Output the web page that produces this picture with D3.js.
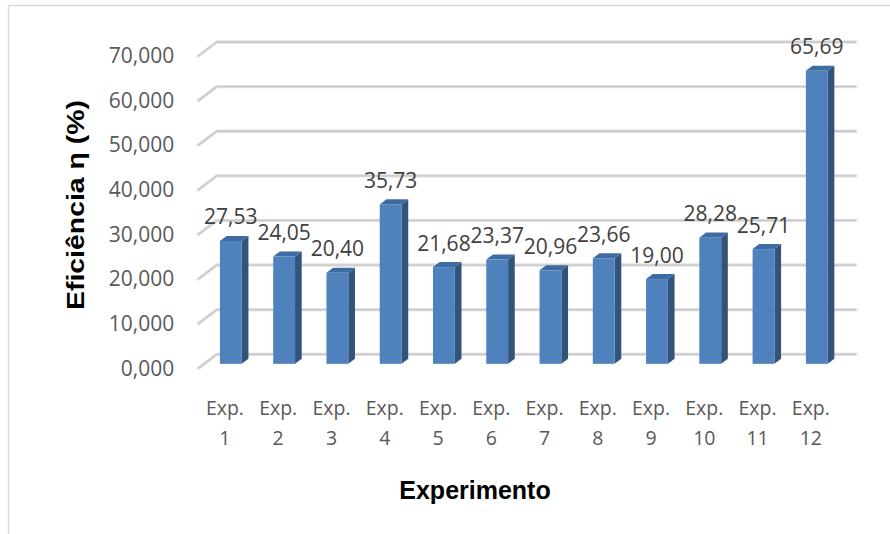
<!DOCTYPE html>
<html>
<head>
<meta charset="utf-8">
<script src="https://cdn.jsdelivr.net/npm/d3@7"></script>
<style>
  html, body { margin: 0; padding: 0; background: #fff; }
  svg { display: block; }
</style>
</head>
<body>
<svg id="chart" width="890" height="534"></svg>
<script>
// ---- data ----
const categories = ["Exp. 1","Exp. 2","Exp. 3","Exp. 4","Exp. 5","Exp. 6","Exp. 7","Exp. 8","Exp. 9","Exp. 10","Exp. 11","Exp. 12"];
const efficiency = [27.53, 24.05, 20.40, 35.73, 21.68, 23.37, 20.96, 23.66, 19.00, 28.28, 25.71, 65.69];
const yTicks = [0, 10, 20, 30, 40, 50, 60, 70];
const yTitle = "Eficiência η (%)";
const xTitle = "Experimento";

// ---- layout ----
const svg = d3.select("#chart");
const W = 890, H = 534;
const frontLeft = 198.3, frontRight = 837.5;
const DX = 18.5, DY = -14;          // depth vector (front plane -> back wall)
const d0 = 0.32, d1 = 0.68;         // bar depth range
const locale = d3.formatLocale({decimal: ",", thousands: ".", grouping: [3], currency: ["", ""]});
const fmtTick = locale.format(".3f");
const fmtVal = locale.format(".2f");
const textGray = "#595959";

const x = d3.scaleBand().domain(categories).range([frontLeft, frontRight]).padding(0);
const y = d3.scaleLinear().domain([0, 70]).range([368.3, 56.0]);

// chart frame
svg.append("path")
  .attr("d", `M8.5,${H} L8.5,5.5 L${W},5.5`)
  .attr("fill", "none").attr("stroke", "#d9d9d9").attr("stroke-width", 1.5);

// gridlines (back wall + side slant)
const grid = svg.append("g");
yTicks.forEach(t => {
  const yf = y(t);
  const pts = [[frontLeft, yf], [frontLeft + DX, yf + DY], [frontRight + DX, yf + DY]];
  grid.append("path")
    .attr("d", d3.line()(pts))
    .attr("fill", "none").attr("stroke", "#e3e3e3").attr("stroke-width", 3.4)
    .attr("stroke-linejoin", "round").attr("stroke-linecap", "round");
  grid.append("path")
    .attr("d", d3.line()(pts))
    .attr("fill", "none").attr("stroke", "#c6c6c6").attr("stroke-width", 1.3)
    .attr("stroke-linejoin", "round");
});

// y axis labels
const yAxis = d3.axisLeft(y).tickValues(yTicks).tickSize(0).tickPadding(24).tickFormat(fmtTick);
const yg = svg.append("g").attr("transform", `translate(${frontLeft},0)`).call(yAxis);
yg.select(".domain").remove();
yg.selectAll("text")
  .attr("font-family", "'Open Sans', sans-serif")
  .attr("font-size", 21)
  .attr("fill", textGray);

// bars
const bw = x.bandwidth();
const barW = bw * 0.41;
const sdx = (d1 - d0) * DX, sdy = (d1 - d0) * DY;
const bars = svg.append("g");
efficiency.forEach((v, i) => {
  const c = categories[i];
  const x0 = x(c) + (bw - barW) / 2 + d0 * DX;
  const yt = y(v) + d0 * DY;
  const yb = y(0) + d0 * DY;
  // side face
  bars.append("path")
    .attr("d", d3.line()([[x0 + barW, yt], [x0 + barW + sdx, yt + sdy], [x0 + barW + sdx, yb + sdy], [x0 + barW, yb]]) + "Z")
    .attr("fill", "#32537c");
  // top face
  bars.append("path")
    .attr("d", d3.line()([[x0, yt], [x0 + sdx, yt + sdy], [x0 + barW + sdx, yt + sdy], [x0 + barW, yt]]) + "Z")
    .attr("fill", "#3e6ba3");
  // front face
  bars.append("rect")
    .attr("x", x0).attr("y", yt).attr("width", barW).attr("height", yb - yt)
    .attr("fill", "#4f81bd");
  // value label
  bars.append("text")
    .attr("x", x0 + barW / 2).attr("y", yt - 16.5)
    .attr("text-anchor", "middle")
    .attr("font-family", "'Open Sans', sans-serif")
    .attr("font-size", 21)
    .attr("fill", "#404040")
    .text(fmtVal(v));
});

// x labels (two lines)
const xl = svg.append("g");
categories.forEach(c => {
  const parts = c.split(" ");
  const t = xl.append("text")
    .attr("text-anchor", "middle")
    .attr("font-family", "'Open Sans', sans-serif")
    .attr("font-size", 19.5)
    .attr("fill", textGray);
  t.append("tspan").attr("x", x(c) + bw / 2).attr("y", 415).text(parts[0]);
  t.append("tspan").attr("x", x(c) + bw / 2).attr("y", 445).text(parts[1]);
});

// axis titles
svg.append("text")
  .attr("transform", "translate(84,205) rotate(-90)")
  .attr("text-anchor", "middle")
  .attr("font-family", "'Liberation Sans', Arial, sans-serif")
  .attr("font-weight", "bold")
  .attr("font-size", 23)
  .attr("textLength", 210)
  .attr("lengthAdjust", "spacingAndGlyphs")
  .attr("fill", "#000")
  .text(yTitle);

svg.append("text")
  .attr("x", 475).attr("y", 499)
  .attr("text-anchor", "middle")
  .attr("font-family", "'Liberation Sans', Arial, sans-serif")
  .attr("font-weight", "bold")
  .attr("font-size", 25)
  .attr("fill", "#000")
  .text(xTitle);
</script>
</body>
</html>
